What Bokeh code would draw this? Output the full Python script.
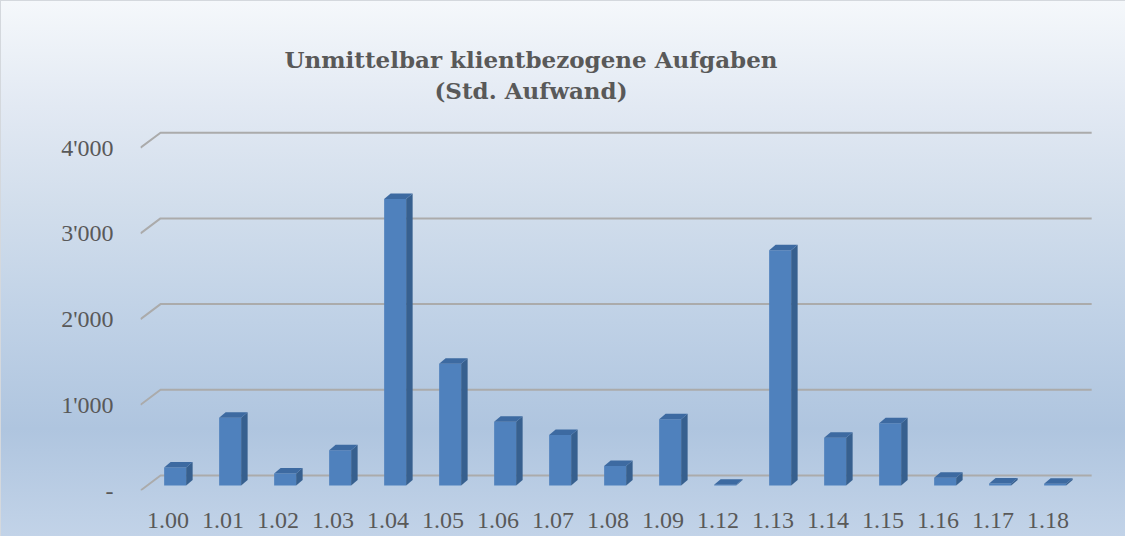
from bokeh.plotting import figure
from bokeh.models import FixedTicker, Label
from bokeh.embed import file_html
from bokeh.resources import INLINE

# ---- data ----
categories = ["1.00", "1.01", "1.02", "1.03", "1.04", "1.05", "1.06", "1.07", "1.08",
              "1.09", "1.12", "1.13", "1.14", "1.15", "1.16", "1.17", "1.18"]
hours = [210, 790, 140, 412, 3345, 1420, 745, 590, 227, 773, 10, 2746, 559, 727, 90, 25, 20]
y_ticks = [0, 1000, 2000, 3000, 4000]
y_tick_labels = ["-", "1'000", "2'000", "3'000", "4'000"]
title_lines = ["Unmittelbar klientbezogene Aufgaben", "(Std. Aufwand)"]

# ---- 3D projection style constants (data units of the front plane) ----
BACK_DX, BACK_DY = 0.364, 175     # back wall offset
BAR_DX0, BAR_DY0 = 0.13, 58       # bar plane offset
BAR_W = 0.40                      # bar front width
DEP_DX, DEP_DY = 0.118, 64        # bar depth
RIGHT_TRIM = 0.07

n = len(categories)
W, H = 1125, 536
p = figure(width=W, height=H, output_backend="svg", toolbar_location=None,
           x_range=(-0.5, 16.9), y_range=(0, 5368),
           min_border_left=140, min_border_right=28, min_border_top=30, min_border_bottom=46)
p.background_fill_alpha = 0
p.border_fill_alpha = 0
p.outline_line_color = None
p.xgrid.visible = False
p.ygrid.visible = False
p.styles = {"background": "linear-gradient(to bottom, #f5f8fb 0%, #e2e9f3 20%, #d2deec 38%, #bfd1e6 60%, #afc5df 80%, #c2d3e8 100%)",
            "box-shadow": "inset 1px 1px 0 #d4d8dd"}

# gridlines (front-left diagonal + back wall line)
gx, gy = [], []
for t in y_ticks:
    gx.append([-0.5, -0.5 + BACK_DX, n - 0.5 + BACK_DX - RIGHT_TRIM])
    gy.append([t, t + BACK_DY, t + BACK_DY])
p.multi_line(gx, gy, line_color="#ababab", line_width=2)

# bars
xs_c = [i + BAR_DX0 for i in range(n)]
bottoms = [BAR_DY0] * n
tops = [BAR_DY0 + v for v in hours]
p.vbar(x=xs_c, width=BAR_W, bottom=bottoms, top=tops, fill_color="#4f81bd", line_color=None)

side_x, side_y, top_x, top_y = [], [], [], []
for xc, b, t in zip(xs_c, bottoms, tops):
    xl, xr = xc - BAR_W / 2, xc + BAR_W / 2
    side_x.append([xr, xr + DEP_DX, xr + DEP_DX, xr])
    side_y.append([b, b + DEP_DY, t + DEP_DY, t])
    top_x.append([xl, xr, xr + DEP_DX, xl + DEP_DX])
    top_y.append([t, t, t + DEP_DY, t + DEP_DY])
p.patches(side_x, side_y, fill_color="#37608f", line_color=None)
p.patches(top_x, top_y, fill_color="#3d6aa1", line_color=None)

# axes
p.xaxis.ticker = FixedTicker(ticks=list(range(n)))
p.xaxis.major_label_overrides = {i: c for i, c in enumerate(categories)}
p.yaxis.ticker = FixedTicker(ticks=y_ticks)
p.yaxis.major_label_overrides = {t: l for t, l in zip(y_ticks, y_tick_labels)}
for ax in (p.xaxis, p.yaxis):
    ax.axis_line_color = None
    ax.major_tick_line_color = None
    ax.minor_tick_line_color = None
    ax.major_tick_out = 0
    ax.major_tick_in = 0
    ax.major_label_text_font = "Liberation Serif"
    ax.major_label_text_font_size = "24px"
    ax.major_label_text_color = "#595959"
p.xaxis.major_label_standoff = 22
p.yaxis.major_label_standoff = 27

# title (two centred lines)
p.add_layout(Label(x=6.6, y=5030, text=title_lines[0], text_align="center",
                   text_baseline="alphabetic", text_font="DejaVu Serif",
                   text_font_style="bold", text_font_size="23px", text_color="#595959"))
p.add_layout(Label(x=6.6, y=4672, text=title_lines[1], text_align="center",
                   text_baseline="alphabetic", text_font="DejaVu Serif",
                   text_font_style="bold", text_font_size="23px", text_color="#595959"))

open("out.html", "w").write(file_html(p, INLINE))
